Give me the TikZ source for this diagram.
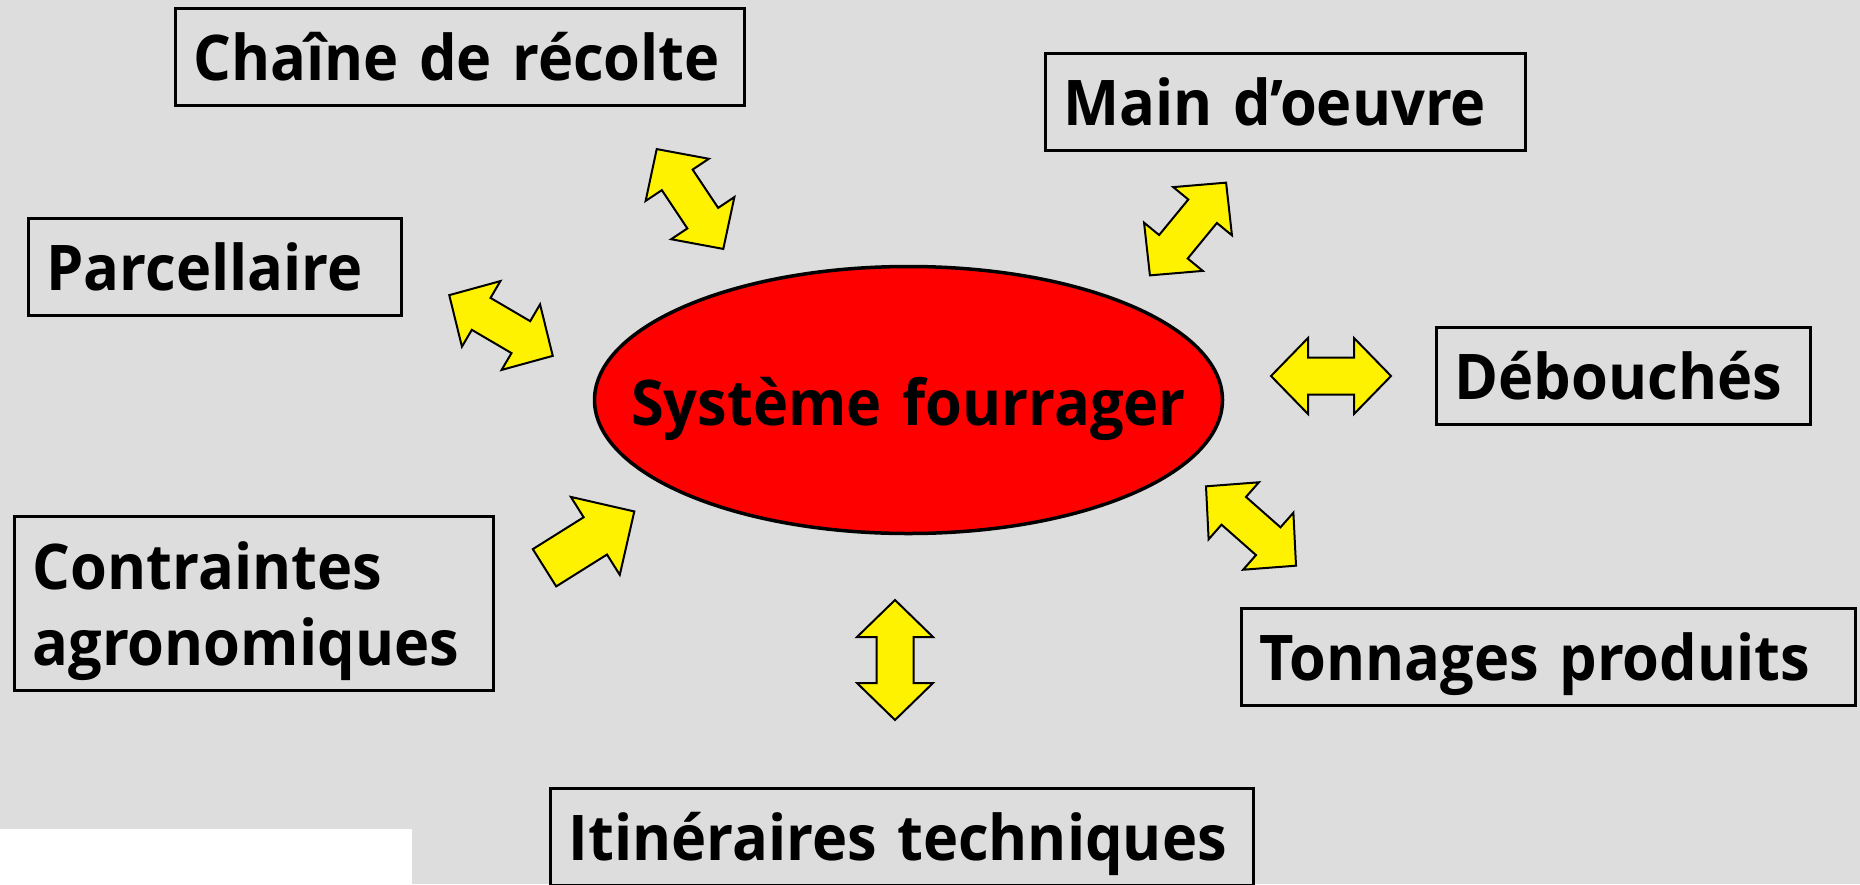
\documentclass[tikz,border=0pt]{standalone}
\usepackage{fontspec}
\setmainfont{Open Sans}[FakeStretch=0.945]
\usetikzlibrary{shapes.geometric}
\definecolor{bggray}{RGB}{221,221,221}

\begin{document}
\begin{tikzpicture}[
  x=1pt, y=-1pt,
  lbl/.style={font=\fontsize{63}{76}\selectfont\bfseries, text height=47pt, text depth=0pt,
              execute at begin node={\spaceskip=.32em\relax}},
  box/.style={lbl, draw, line width=3pt, inner xsep=18pt, inner ysep=0pt, minimum height=97pt, align=left},
  sys/.style={lbl, ellipse, draw, line width=3.5pt, fill=red, inner sep=0pt, minimum width=628pt, minimum height=267pt, text height=51pt},
  arw/.style={draw, line width=2pt, fill=yellow, line join=miter},
  dblarrow/.pic={\path[arw] (-60,0) -- (-23,38) -- (-23,18.5) -- (23,18.5) -- (23,38) -- (60,0)
                 -- (23,-38) -- (23,-18.5) -- (-23,-18.5) -- (-23,-38) -- cycle;},
  onearrow/.pic={\path[arw] (-53,-22) -- (7,-22) -- (7,-46) -- (53,0) -- (7,46) -- (7,22) -- (-53,22) -- cycle;}
]

% --- page ---
\useasboundingbox (0,0) rectangle (1860,884);
\clip (0,0) rectangle (1860,884);
\fill[bggray] (0,0) rectangle (1860,884);
\fill[white] (0,829) rectangle (412,884);

% --- boxes ---
\node[box, text width=533pt] (chaine) at (460,57)     {Chaîne de récolte};
\node[box, text width=444pt] (main)   at (1285.5,102) {Main d’oeuvre};
\node[box, text width=337pt] (parc)   at (215,267)    {Parcellaire};
\node[box, text width=338pt] (debou)  at (1623.5,376) {Débouchés};
\node[box, text width=443pt, minimum height=174pt, text depth=76pt] (contr) at (254,603.5)
  {Contraintes\\agronomiques};
\node[box, text width=578pt] (tonn)   at (1548.5,657) {Tonnages produits};
\node[box, text width=667pt] (itin)   at (902,837)    {Itinéraires techniques};

% --- centre ---
\node[sys] (sys) at (908.5,400) {\makebox[0pt]{Système fourrager}};

% --- block arrows ---
\pic[rotate=-56.3] (aChaine) at (690,199)    {dblarrow};
\pic[rotate=-30.4] (aParc)   at (501,325.5)  {dblarrow};
\pic[rotate=50.6]  (aMain)   at (1188,229)   {dblarrow};
\pic               (aDebou)  at (1331,376)   {dblarrow};
\pic[rotate=-41.4] (aTonn)   at (1251,526)   {dblarrow};
\pic[rotate=90]    (aItin)   at (895,660)    {dblarrow};
\pic[rotate=32.1]  (aContr)  at (589.4,539.6) {onearrow}; % one way only: towards the centre

\end{tikzpicture}
\end{document}
